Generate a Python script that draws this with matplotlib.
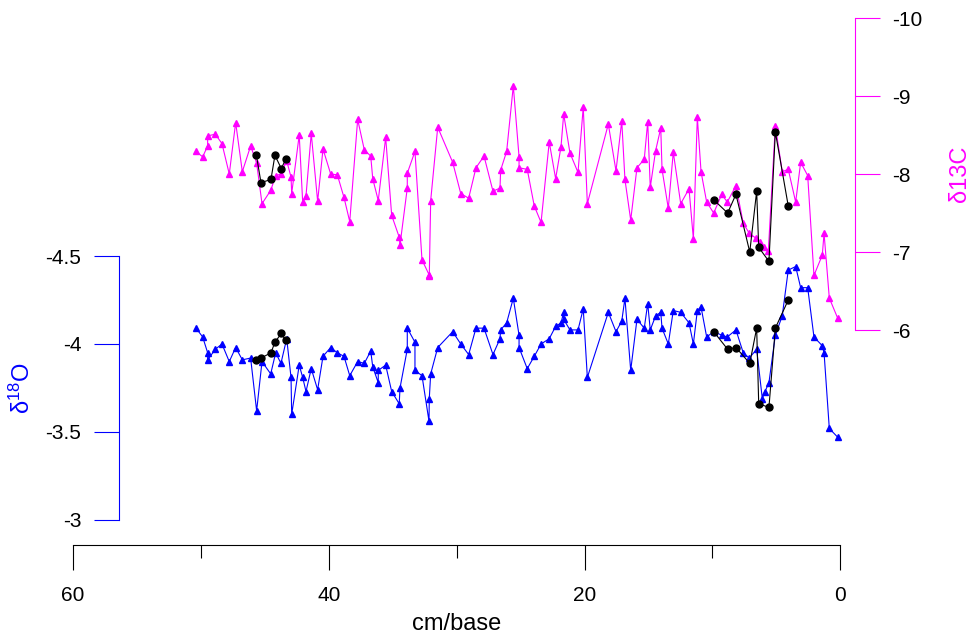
#!/usr/bin/python3

"""
Stable isotope record (d18O and d13C) against depth in cm from the base.
Two y axes: d18O on the left (blue), d13C on the right (magenta).
Black dots are the replicate samples.
"""

import matplotlib
matplotlib.use("Agg")
import matplotlib.pyplot as plt

plt.rcParams['font.family'] = ['Liberation Sans', 'DejaVu Sans']
plt.rcParams['mathtext.default'] = 'regular'
plt.rcParams['axes.unicode_minus'] = False

# d13C series (magenta)
depth_c = [50.38, 49.86, 49.47, 49.47, 48.87, 48.35, 47.78, 47.28, 46.76, 46.11,
           45.64, 45.22, 44.54, 44.15, 43.74, 43.29, 42.95, 42.90, 42.31, 42.04,
           41.78, 41.37, 40.87, 40.45, 39.85, 39.33, 38.81, 38.36, 37.74, 37.22,
           36.72, 36.56, 36.13, 35.55, 35.08, 34.49, 34.43, 33.86, 33.86, 33.26,
           32.71, 32.16, 32.14, 32.03, 31.48, 30.31, 29.68, 29.06, 28.49, 27.86,
           27.16, 26.61, 26.56, 26.09, 25.57, 25.12, 25.12, 24.48, 23.93, 23.40,
           22.76, 22.26, 21.84, 21.63, 21.14, 20.51, 20.10, 19.78, 18.14, 17.54,
           17.09, 16.84, 16.39, 15.90, 15.33, 15.06, 14.86, 14.44, 14.04, 13.94,
           13.45, 13.06, 12.48, 11.83, 11.49, 11.18, 10.89, 10.45, 9.90, 9.27,
           8.84, 8.16, 7.59, 7.12, 6.62, 6.28, 5.97, 5.63, 5.08, 4.54,
           4.07, 3.49, 3.10, 2.55, 2.06, 1.41, 1.27, 0.86, 0.20]
d13c = [-8.29, -8.22, -8.36, -8.49, -8.51, -8.39, -8.00, -8.66, -8.03, -8.36,
        -8.14, -7.62, -7.79, -7.98, -8.00, -8.17, -7.96, -7.75, -8.50, -7.64,
        -7.72, -8.52, -7.65, -8.32, -8.00, -7.99, -7.70, -7.39, -8.70, -8.31,
        -8.23, -7.94, -7.66, -8.47, -7.47, -7.19, -7.09, -7.82, -8.01, -8.29,
        -6.90, -6.71, -6.69, -7.66, -8.60, -8.15, -7.75, -7.69, -8.08, -8.23,
        -7.78, -7.82, -8.05, -8.29, -9.13, -8.22, -8.08, -8.06, -7.59, -7.38,
        -8.41, -7.94, -8.35, -8.77, -8.27, -8.02, -8.86, -7.62, -8.64, -8.04,
        -8.68, -7.93, -7.41, -8.08, -8.19, -8.67, -7.83, -8.30, -8.59, -8.06,
        -7.56, -8.28, -7.62, -7.81, -7.17, -8.73, -8.03, -7.64, -7.50, -7.74,
        -7.64, -7.85, -7.37, -7.24, -7.18, -7.13, -7.07, -7.01, -8.62, -8.03,
        -8.06, -7.64, -8.15, -7.98, -6.70, -6.96, -7.24, -6.41, -6.15]

# d18O series (blue)
depth_o = [50.38, 49.86, 49.47, 49.47, 48.87, 48.35, 47.78, 47.28, 46.76, 46.11,
           45.64, 45.22, 44.54, 44.15, 43.74, 43.29, 42.95, 42.90, 42.31, 42.04,
           41.78, 41.37, 40.87, 40.45, 39.85, 39.33, 38.81, 38.36, 37.74, 37.22,
           36.72, 36.56, 36.13, 36.13, 35.55, 35.08, 34.49, 34.43, 33.86, 33.86,
           33.26, 33.26, 32.71, 32.16, 32.14, 32.03, 31.48, 30.31, 29.68, 29.06,
           28.49, 27.86, 27.16, 26.61, 26.56, 26.09, 25.57, 25.12, 25.12, 24.48,
           23.93, 23.40, 22.76, 22.26, 21.84, 21.63, 21.63, 21.14, 20.51, 20.10,
           19.78, 18.14, 17.54, 17.09, 16.84, 16.39, 15.90, 15.33, 15.06, 14.86,
           14.44, 14.04, 13.94, 13.45, 13.06, 12.48, 11.83, 11.49, 11.18, 10.89,
           10.45, 9.90, 9.27, 8.84, 8.16, 7.59, 7.12, 6.54, 6.10, 5.89,
           5.58, 5.08, 4.54, 4.07, 3.49, 3.10, 2.55, 2.06, 1.41, 1.27,
           0.86, 0.20]
d18o = [-4.09, -4.04, -3.95, -3.91, -3.97, -4.00, -3.90, -3.98, -3.91, -3.92,
        -3.62, -3.90, -3.83, -3.95, -3.89, -4.03, -3.81, -3.60, -3.88, -3.81,
        -3.73, -3.86, -3.74, -3.93, -3.98, -3.95, -3.93, -3.82, -3.90, -3.89,
        -3.96, -3.87, -3.78, -3.85, -3.88, -3.73, -3.66, -3.75, -3.97, -4.09,
        -4.01, -3.85, -3.82, -3.56, -3.69, -3.83, -3.98, -4.07, -4.00, -3.94,
        -4.09, -4.09, -3.94, -4.03, -4.08, -4.12, -4.26, -4.05, -3.98, -3.86,
        -3.93, -4.00, -4.03, -4.10, -4.12, -4.18, -4.14, -4.08, -4.08, -4.20,
        -3.81, -4.18, -4.07, -4.13, -4.26, -3.85, -4.14, -4.09, -4.23, -4.08,
        -4.16, -4.18, -4.09, -4.00, -4.19, -4.18, -4.12, -4.00, -4.19, -4.21,
        -4.04, -4.07, -4.05, -4.04, -4.08, -3.95, -3.92, -3.97, -3.69, -3.73,
        -3.78, -4.05, -4.16, -4.42, -4.44, -4.32, -4.32, -4.04, -3.99, -3.95,
        -3.52, -3.47]

# replicate samples (black), two separate runs
rep_depth = [[45.67, 45.30, 44.52, 44.21, 43.71, 43.37],
             [9.90, 8.81, 8.16, 7.08, 6.54, 6.38, 5.58, 5.08, 4.07]]
rep_d18o = [[-3.91, -3.92, -3.95, -4.01, -4.06, -4.02],
            [-4.07, -3.97, -3.98, -3.89, -4.09, -3.66, -3.64, -4.09, -4.25]]
rep_d13c = [[-8.25, -7.89, -7.93, -8.24, -8.07, -8.19],
            [-7.67, -7.50, -7.74, -7.00, -7.78, -7.06, -6.88, -8.54, -7.59]]

# axis ticks
x_major = [60, 40, 20, 0]
x_minor = [50, 30, 10]
o_ticks = [-4.5, -4, -3.5, -3]
o_labels = ['-4.5', '-4', '-3.5', '-3']
c_ticks = [-10, -9, -8, -7, -6]
c_labels = ['-10', '-9', '-8', '-7', '-6']

W, H = 972, 635
fig = plt.figure(figsize=(W / 100, H / 100), dpi=100)
ax = fig.add_axes([40 / W, (H - 545.3) / H, 860 / W, 535.3 / H])
ax.set_xlim(62.58, -4.668)
ax.set_ylim(-2.856, -5.898)

# d18O, blue triangles
ax.plot(depth_o, d18o, color='blue', lw=0.8, marker='^', ms=5, zorder=2)
for dx, dy in zip(rep_depth, rep_d18o):
    ax.plot(dx, dy, color='black', lw=0.8, marker='o', ms=5, zorder=3)

ax2 = ax.twinx()
ax2.set_ylim(-3.240, -10.103)
ax2.plot(depth_c, d13c, color='magenta', lw=0.8, marker='^', ms=5, zorder=2)
for dx, dy in zip(rep_depth, rep_d13c):
    ax2.plot(dx, dy, color='black', lw=0.8, marker='o', ms=5, zorder=3)

# R style detached axes
for s in ['top', 'right']:
    ax.spines[s].set_visible(False)
for s in ['top', 'left', 'bottom']:
    ax2.spines[s].set_visible(False)

ax.spines['bottom'].set_bounds(0, 60)
ax.spines['bottom'].set_linewidth(0.8)
ax.set_xticks(x_major)
ax.set_xticklabels([str(v) for v in x_major])
ax.set_xticks(x_minor, minor=True)
ax.tick_params(axis='x', which='major', length=18, width=0.8, labelsize=15, pad=11)
ax.tick_params(axis='x', which='minor', length=9, width=0.8)

ax.spines['left'].set_position(('data', 56.43))
ax.spines['left'].set_bounds(-3, -4.5)
ax.spines['left'].set_color('blue')
ax.spines['left'].set_linewidth(0.8)
ax.set_yticks(o_ticks)
ax.set_yticklabels(o_labels)
ax.tick_params(axis='y', length=18, width=0.8, color='blue', labelcolor='black',
               labelsize=15, pad=9)

ax2.spines['right'].set_position(('data', -1.126))
ax2.spines['right'].set_bounds(-6, -10)
ax2.spines['right'].set_color('magenta')
ax2.spines['right'].set_linewidth(0.8)
ax2.set_yticks(c_ticks)
ax2.set_yticklabels(c_labels)
ax2.tick_params(axis='y', length=18, width=0.8, color='magenta', labelcolor='black',
                labelsize=15, pad=9)

# axis titles
ax.annotate('cm/base', xy=(30, 5), xycoords=('data', 'figure pixels'),
            ha='center', va='baseline', fontsize=17)
fig.text(22.5 / W, 1 - 388 / H, r'δ$^{18}$O', color='blue', rotation=90,
         ha='center', va='center', fontsize=17)
fig.text(960 / W, 1 - 174 / H, 'δ13C', color='magenta', rotation=90,
         ha='center', va='center', fontsize=17)

plt.savefig('out.png', dpi=100)
